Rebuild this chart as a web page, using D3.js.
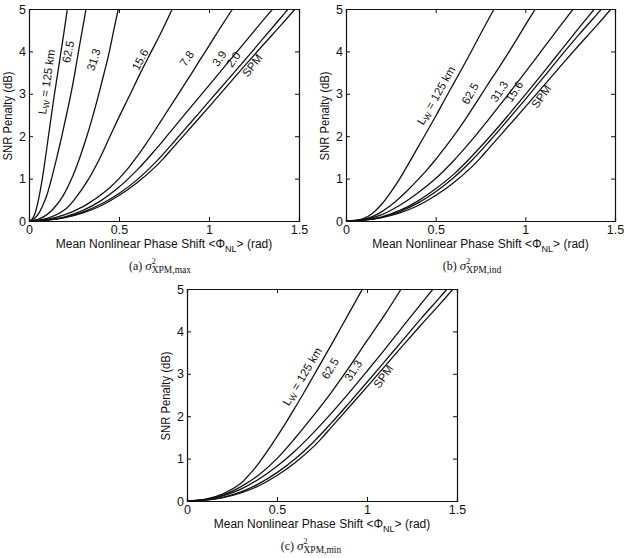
<!DOCTYPE html>
<html><head><meta charset="utf-8">
<script src="https://cdn.jsdelivr.net/npm/d3@7"></script>
<style>
body{margin:0;background:#fff}
svg{display:block}
text{font-family:"Liberation Sans",Arial,Helvetica,sans-serif;fill:#111}
text.cap{font-family:"Liberation Serif","Times New Roman",serif}
</style>
</head><body>
<svg id="chart" width="624" height="558"></svg>
<script>
// ---------- data ----------
const xTicks = [0, 0.5, 1, 1.5];
const yTicks = [0, 1, 2, 3, 4, 5];
const xLabel = "Mean Nonlinear Phase Shift <Φ";
const yLabel = "SNR Penalty (dB)";

const spm = [[0,0],[0.1,0.02],[0.2,0.08],[0.3,0.19],[0.4,0.36],[0.5,0.6],[0.6,0.9],[0.7,1.27],[0.75,1.49],[0.8,1.73],[0.9,2.21],[1.0,2.69],[1.1,3.18],[1.2,3.67],[1.3,4.15],[1.4,4.62],[1.478,5]];

// panel (a): sigma^2 XPM,max
const a125 = [[0,0],[0.01,0.01],[0.02,0.06],[0.03,0.14],[0.04,0.27],[0.055,0.55],[0.074,1],[0.09,1.45],[0.107,1.97],[0.124,2.48],[0.141,2.98],[0.16,3.5],[0.178,4],[0.196,4.5],[0.213,5]];
const a62 = [[0,0],[0.02,0.03],[0.04,0.1],[0.06,0.22],[0.08,0.4],[0.1,0.62],[0.122,0.95],[0.15,1.42],[0.181,1.98],[0.208,2.5],[0.233,3],[0.255,3.5],[0.275,4],[0.296,4.5],[0.317,5]];
const a31 = [[0,0],[0.05,0.04],[0.1,0.15],[0.144,0.33],[0.19,0.6],[0.237,1],[0.28,1.47],[0.32,1.98],[0.353,2.45],[0.385,2.95],[0.415,3.45],[0.444,3.95],[0.471,4.5],[0.496,5]];
const a15 = [[0,0],[0.1,0.06],[0.2,0.27],[0.26,0.55],[0.33,0.98],[0.39,1.45],[0.445,1.95],[0.5,2.45],[0.56,2.97],[0.62,3.5],[0.68,4],[0.74,4.5],[0.796,5]];
const a7 = [[0,0],[0.1,0.04],[0.2,0.15],[0.3,0.34],[0.35,0.47],[0.4,0.62],[0.45,0.79],[0.5,1.0],[0.55,1.24],[0.6,1.52],[0.65,1.82],[0.7,2.14],[0.75,2.47],[0.8,2.8],[0.85,3.13],[0.9,3.46],[0.95,3.8],[1.0,4.13],[1.05,4.47],[1.1,4.8],[1.131,5]];
const a3 = [[0,0],[0.1,0.025],[0.2,0.1],[0.3,0.25],[0.4,0.48],[0.5,0.8],[0.6,1.2],[0.7,1.67],[0.75,1.92],[0.8,2.18],[0.9,2.69],[1.0,3.2],[1.1,3.71],[1.2,4.22],[1.3,4.73],[1.354,5]];
const a2 = [[0,0],[0.1,0.022],[0.2,0.085],[0.3,0.21],[0.4,0.4],[0.5,0.65],[0.6,0.97],[0.7,1.37],[0.75,1.6],[0.8,1.84],[0.9,2.33],[1.0,2.82],[1.1,3.31],[1.2,3.8],[1.3,4.3],[1.4,4.8],[1.44,5]];

// panel (b): sigma^2 XPM,ind
const b125 = [[0,0],[0.05,0.01],[0.1,0.06],[0.15,0.19],[0.2,0.4],[0.25,0.68],[0.3,1.0],[0.35,1.36],[0.4,1.73],[0.45,2.1],[0.5,2.47],[0.55,2.86],[0.6,3.24],[0.65,3.62],[0.7,4.01],[0.75,4.41],[0.8,4.8],[0.826,5]];
const b62 = [[0,0],[0.05,0.01],[0.1,0.04],[0.15,0.11],[0.2,0.22],[0.25,0.37],[0.3,0.55],[0.35,0.75],[0.4,0.97],[0.45,1.2],[0.5,1.45],[0.55,1.72],[0.6,2.0],[0.65,2.3],[0.7,2.62],[0.75,2.95],[0.8,3.28],[0.85,3.6],[0.9,3.93],[0.95,4.27],[1.0,4.62],[1.056,5]];
const b31 = [[0,0],[0.1,0.03],[0.2,0.15],[0.3,0.37],[0.4,0.66],[0.5,1.0],[0.6,1.42],[0.7,1.9],[0.8,2.42],[0.9,2.96],[1.0,3.51],[1.1,4.07],[1.2,4.63],[1.267,5]];
const b15 = [[0,0],[0.1,0.025],[0.2,0.1],[0.3,0.25],[0.4,0.47],[0.5,0.76],[0.6,1.1],[0.7,1.52],[0.8,1.98],[0.9,2.47],[1.0,2.98],[1.1,3.5],[1.2,4.03],[1.3,4.56],[1.385,5]];
const b7 = [[0,0],[0.1,0.022],[0.2,0.088],[0.3,0.22],[0.4,0.42],[0.5,0.69],[0.6,1.02],[0.7,1.42],[0.8,1.88],[0.9,2.37],[1.0,2.87],[1.1,3.38],[1.2,3.9],[1.3,4.4],[1.4,4.88],[1.425,5]];

// panel (c): sigma^2 XPM,min
const c125 = [[0,0],[0.1,0.04],[0.2,0.17],[0.3,0.42],[0.35,0.64],[0.4,0.9],[0.45,1.2],[0.5,1.52],[0.55,1.85],[0.6,2.2],[0.65,2.56],[0.7,2.93],[0.75,3.3],[0.8,3.67],[0.85,4.05],[0.9,4.43],[0.95,4.81],[0.975,5]];
const c62 = [[0,0],[0.1,0.035],[0.2,0.14],[0.3,0.34],[0.4,0.62],[0.5,1.0],[0.6,1.48],[0.7,2.0],[0.8,2.55],[0.9,3.15],[1.0,3.78],[1.1,4.4],[1.19,5]];
const c31 = [[0,0],[0.1,0.03],[0.2,0.12],[0.3,0.28],[0.4,0.52],[0.5,0.82],[0.6,1.18],[0.7,1.6],[0.8,2.06],[0.9,2.55],[1.0,3.06],[1.1,3.58],[1.2,4.12],[1.3,4.65],[1.367,5]];
const c15 = [[0,0],[0.1,0.022],[0.2,0.087],[0.3,0.215],[0.4,0.41],[0.5,0.67],[0.6,0.99],[0.7,1.38],[0.8,1.83],[0.9,2.31],[1.0,2.8],[1.1,3.3],[1.2,3.8],[1.3,4.3],[1.4,4.78],[1.445,5]];

const labelsA = ["125 km","62.5","31.3","15.6","7.8","3.9","2.0","SPM"];
const labelsB = ["125 km","62.5","31.3","15.6","SPM"];
const labelsC = ["125 km","62.5","31.3","SPM"];
const captions = [["(a)","XPM,max"],["(b)","XPM,ind"],["(c)","XPM,min"]];

// ---------- layout ----------
const svg = d3.select("#chart");
svg.append("rect").attr("width",624).attr("height",558).attr("fill","#fff");

const panels = [
  {box:[29,299,9,221], series:[a125,a62,a31,a15,a7,a3,a2,spm], labels:labelsA,
   lpos:[[47.5,82,-82],[69,52,-78],[94.5,60,-72],[141,60,-62],[187.5,59,-55],[220,59,-55],[234,60,-55],[253,66,-52]],
   cap:captions[0], capX:160},
  {box:[346,615,9,221], series:[b125,b62,b31,b15,b7,spm], labels:labelsB,
   lpos:[[437,96,-60],[471,94,-60],[500,92,-57],[515,92,-57],[542,97,-55]],
   cap:captions[1], capX:472},
  {box:[187,457,289,501], series:[c125,c62,c31,c15,spm], labels:labelsC,
   lpos:[[303,377,-59],[331,369,-58],[354,371,-57],[384,377,-55]],
   cap:captions[2], capX:311}
];

panels.forEach((p,i)=>{
  const [x0,x1,y0,y1] = p.box;
  const x = d3.scaleLinear().domain([0,1.5]).range([x0,x1]);
  const y = d3.scaleLinear().domain([0,5]).range([y1,y0]);
  const g = svg.append("g");
  const cid = "clip"+i;
  svg.append("clipPath").attr("id",cid).append("rect")
     .attr("x",x0).attr("y",y0).attr("width",x1-x0).attr("height",y1-y0);

  // curves
  const line = d3.line().x(d=>x(d[0])).y(d=>y(d[1])).curve(d3.curveCatmullRom.alpha(0.5));
  g.append("g").attr("clip-path",`url(#${cid})`).selectAll("path").data(p.series).join("path")
    .attr("d",line).attr("fill","none").attr("stroke","#111").attr("stroke-width",1.3);

  // axes (inward ticks on all four sides)
  const fmt = d3.format("~g");
  const ax = g.append("g").attr("transform",`translate(0,${y1})`)
    .call(d3.axisBottom(x).tickValues(xTicks).tickSize(-4).tickPadding(4).tickFormat(fmt));
  const at = g.append("g").attr("transform",`translate(0,${y0})`)
    .call(d3.axisTop(x).tickValues(xTicks).tickSize(-4).tickFormat(""));
  const ay = g.append("g").attr("transform",`translate(${x0},0)`)
    .call(d3.axisLeft(y).tickValues(yTicks).tickSize(-4).tickPadding(3).tickFormat(fmt));
  const ar = g.append("g").attr("transform",`translate(${x1},0)`)
    .call(d3.axisRight(y).tickValues(yTicks).tickSize(-4).tickFormat(""));
  [ax,at,ay,ar].forEach(a=>{
    a.selectAll("path").attr("stroke","#111").attr("stroke-width",1.2);
    a.selectAll("line").attr("stroke","#111");
    a.selectAll("text").attr("font-size",12.5).attr("fill","#111")
      .attr("font-family","'Liberation Sans',Arial,sans-serif");
  });

  // x label
  const xl = g.append("text").attr("x",(x0+x1)/2).attr("y",y1+27)
    .attr("text-anchor","middle").attr("font-size",12);
  xl.append("tspan").text(xLabel);
  xl.append("tspan").attr("dy",4).attr("font-size",9).text("NL");
  xl.append("tspan").attr("dy",-4).text("> (rad)");

  // y label
  g.append("text").attr("transform",`translate(${x0-17},${(y0+y1)/2+1}) rotate(-90)`)
    .attr("text-anchor","middle").attr("font-size",12)
    .attr("textLength",89).attr("lengthAdjust","spacingAndGlyphs").text(yLabel);

  // curve labels
  p.labels.forEach((t,k)=>{
    const [lx,ly,ang] = p.lpos[k];
    const tx = g.append("text").attr("transform",`translate(${lx},${ly}) rotate(${ang})`)
      .attr("text-anchor","middle").attr("dominant-baseline","middle").attr("font-size",11.5);
    if (k===0){
      tx.append("tspan").text("L");
      tx.append("tspan").attr("dy",3).attr("font-size",8.5).text("W");
      tx.append("tspan").attr("dy",-3).text(" = "+t);
    } else tx.text(t);
  });

  // caption
  const cap = g.append("text").attr("class","cap").attr("x",p.capX).attr("y",y1+49)
    .attr("text-anchor","middle").attr("font-size",12);
  cap.append("tspan").text(p.cap[0]+" ");
  cap.append("tspan").attr("font-style","italic").attr("font-size",13).text("σ");
  cap.append("tspan").attr("dy",-6).attr("font-size",8).text("2");
  cap.append("tspan").attr("dx",-4).attr("dy",8.5).attr("font-size",9.5).text(p.cap[1]);
});
</script>
</body></html>
